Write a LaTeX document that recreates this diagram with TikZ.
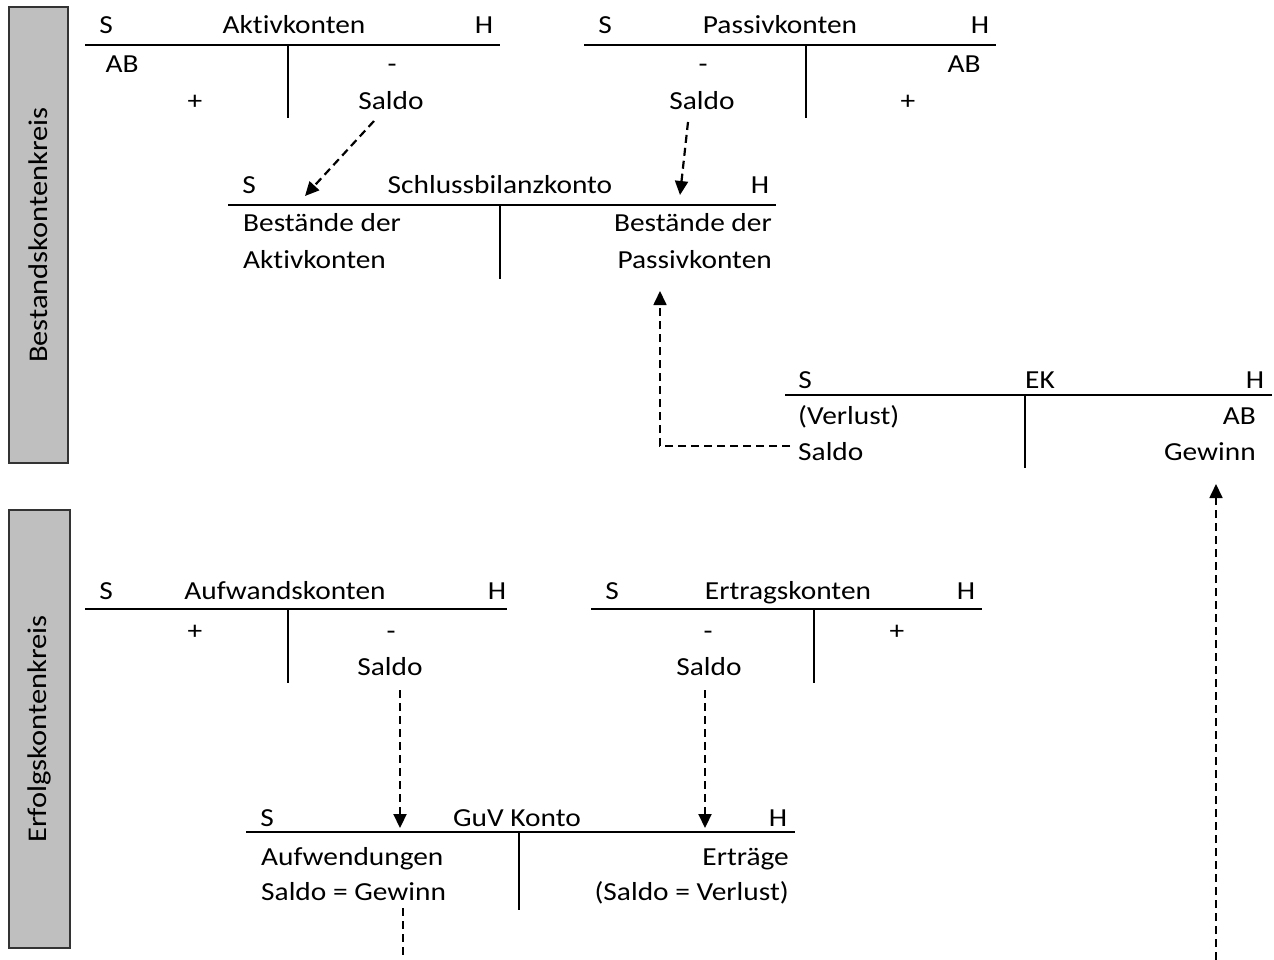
\documentclass[tikz,border=0pt]{standalone}
\usepackage{fontspec}
\setmainfont{Carlito}[FakeStretch=1.13, Ligatures={NoCommon,NoRare,NoContextual}]
\usetikzlibrary{arrows.meta}
\begin{document}
\begin{tikzpicture}[x=1pt,y=-1pt,
  tl/.style={line width=2.6pt},
  lb/.style={inner sep=0pt, anchor=base, font=\fontsize{26}{30}\selectfont},
  lbl/.style={lb, anchor=base west},
  lbr/.style={lb, anchor=base east},
  flow/.style={line width=2.2pt, dash pattern=on 8pt off 5pt, -{Triangle[length=14pt,width=13pt]}},
  thinflow/.style={line width=1.2pt, dash pattern=on 8pt off 5pt},
  side/.style={draw=black!80, line width=1.6pt, fill=black!25, rotate=90, inner sep=0pt,
    font=\fontsize{27}{31}\selectfont}
]
\useasboundingbox (0,0) rectangle (1274,960);

% side boxes
\node[side, minimum width=456pt, minimum height=59pt] (bk) at (38.5,235) {Bestandskontenkreis};
\node[side, minimum width=438pt, minimum height=61pt] (ek) at (39.5,729) {Erfolgskontenkreis};

% Aktivkonten
\draw[tl] (85,45) -- (500,45);
\draw[tl] (288,45) -- (288,118);
\node[lb] (aS) at (106,34) {S};
\node[lb] (aT) at (294,34) {Aktivkonten};
\node[lb] (aH) at (484,34) {H};
\node[lb] (aAB) at (122,73) {AB};
\node[lb] (aP) at (195,110) {+};
\node[lb] (aM) at (392,73) {-};
\node[lb] (aSaldo) at (391,110) {Saldo};

% Passivkonten
\draw[tl] (584,45) -- (996,45);
\draw[tl] (806,45) -- (806,118);
\node[lb] (pS) at (605,34) {S};
\node[lb] (pT) at (780,34) {Passivkonten};
\node[lb] (pH) at (980,34) {H};
\node[lb] (pM) at (703,73) {-};
\node[lb] (pAB) at (964,73) {AB};
\node[lb] (pSaldo) at (702,110) {Saldo};
\node[lb] (pP) at (908,110) {+};

% Schlussbilanzkonto
\draw[tl] (228,205) -- (776,205);
\draw[tl] (500,205) -- (500,279);
\node[lb] (sS) at (249,194) {S};
\node[lb] (sT) at (500,194) {Schlussbilanzkonto};
\node[lb] (sH) at (760,194) {H};
\node[lbl] (sA1) at (243,232) {Bestände der};
\node[lbl] (sA2) at (243,268) {Aktivkonten};
\node[lbr] (sP1) at (772,232) {Bestände der};
\node[lbr] (sP2) at (772,268) {Passivkonten};

% EK
\draw[tl] (785,395) -- (1272,395);
\draw[tl] (1025,395) -- (1025,468);
\node[lb] (eS) at (805,388) {S};
\node[lb] (eT) at (1040,388) {EK};
\node[lb] (eH) at (1255,388) {H};
\node[lbl] (eV) at (798,424) {(Verlust)};
\node[lbl] (eSaldo) at (798,460) {Saldo};
\node[lbr] (eAB) at (1256,424) {AB};
\node[lbr] (eG) at (1256,460) {Gewinn};

% Aufwandskonten
\draw[tl] (85,609) -- (507,609);
\draw[tl] (288,609) -- (288,683);
\node[lb] (fS) at (106,599) {S};
\node[lb] (fT) at (285,599) {Aufwandskonten};
\node[lb] (fH) at (497,599) {H};
\node[lb] (fP) at (195,639) {+};
\node[lb] (fM) at (391,639) {-};
\node[lb] (fSaldo) at (390,675) {Saldo};

% Ertragskonten
\draw[tl] (591,609) -- (982,609);
\draw[tl] (814,609) -- (814,683);
\node[lb] (rS) at (612,599) {S};
\node[lb] (rT) at (788,599) {Ertragskonten};
\node[lb] (rH) at (966,599) {H};
\node[lb] (rM) at (708,639) {-};
\node[lb] (rP) at (897,639) {+};
\node[lb] (rSaldo) at (709,675) {Saldo};

% GuV Konto
\draw[tl] (246,832) -- (795,832);
\draw[tl] (519,832) -- (519,910);
\node[lb] (gS) at (267,826) {S};
\node[lb] (gT) at (517,826) {GuV Konto};
\node[lb] (gH) at (778,826) {H};
\node[lbl] (gA1) at (261,865) {Aufwendungen};
\node[lbl] (gA2) at (261,900) {Saldo = Gewinn};
\node[lbr] (gE1) at (789,865) {Erträge};
\node[lbr] (gE2) at (789,900) {(Saldo = Verlust)};

% connectors
\coordinate (c1s) at (374,121);
\coordinate (c1e) at (305,196);
\draw[flow] (c1s) -- (c1e);
\coordinate (c2s) at (688,122);
\coordinate (c2e) at (680,195);
\draw[flow] (c2s) -- (c2e);
\coordinate (c3s) at (790,446);
\coordinate (c3m) at (660,446);
\coordinate (c3e) at (660,291);
\draw[flow, line width=1.7pt] (c3s) -- (c3m) -- (c3e);
\coordinate (c4s) at (400,690);
\coordinate (c4e) at (400,828);
\draw[flow] (c4s) -- (c4e);
\coordinate (c5s) at (705,690);
\coordinate (c5e) at (705,828);
\draw[flow] (c5s) -- (c5e);
\coordinate (c6s) at (403,908);
\coordinate (c6e) at (403,960);
\draw[thinflow] (c6s) -- (c6e);
\coordinate (c7s) at (1216,960);
\coordinate (c7e) at (1216,484);
\draw[flow, line width=1.7pt] (c7s) -- (c7e);
\end{tikzpicture}
\end{document}
